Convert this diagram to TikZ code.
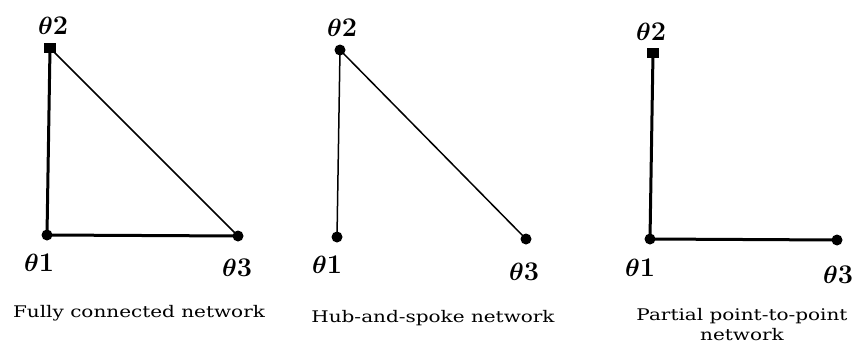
\documentclass[tikz,border=0pt]{standalone}
\usepackage{fontspec}
\newfontfamily\capfont{DejaVu Serif}
\begin{document}
\begin{tikzpicture}[x=1pt,y=-1pt,
  dot/.style={circle,fill=black,inner sep=0pt,minimum size=11pt},
  sq/.style={rectangle,fill=black,inner sep=0pt,minimum width=12pt,minimum height=10pt},
  lab/.style={font=\fontsize{27}{30}\selectfont\boldmath,inner sep=0pt},
  captext/.style={font=\capfont\fontsize{16}{20}\selectfont,inner sep=0pt,align=center},
  thickline/.style={line width=3pt},
  thinline/.style={line width=1.5pt}]
\useasboundingbox (0,0) rectangle (853,359);
% panel 1
\node[sq] (a2) at (50,48) {};
\node[dot] (a1) at (47,235) {};
\node[dot] (a3) at (238,236) {};
\draw[thickline] (a2.center) -- (a1.center) -- (a3.center);
\draw[thinline] (a2.center) -- (a3.center);
\node[lab] (la2) at (53,26) {$\theta$\textbf{2}};
\node[lab] (la1) at (39,263) {$\theta$\textbf{1}};
\node[lab] (la3) at (237,268) {$\theta$\textbf{3}};
\node[captext] (ca) at (139,313) {\scalebox{1.25}[1]{Fully connected network}};
% panel 2
\node[dot] (b2) at (340,50) {};
\node[dot] (b1) at (337,237) {};
\node[dot] (b3) at (526,239) {};
\draw[thinline] (b2.center) -- (b1.center);
\draw[thinline] (b2.center) -- (b3.center);
\node[lab] (lb2) at (342,28) {$\theta$\textbf{2}};
\node[lab] (lb1) at (327,265) {$\theta$\textbf{1}};
\node[lab] (lb3) at (524,272) {$\theta$\textbf{3}};
\node[captext] (cb) at (433,318) {\scalebox{1.25}[1]{Hub-and-spoke network}};
% panel 3
\node[sq] (c2) at (653,53) {};
\node[dot] (c1) at (650,239) {};
\node[dot] (c3) at (837,240) {};
\draw[thickline] (c2.center) -- (c1.center) -- (c3.center);
\node[lab] (lc2) at (651,32) {$\theta$\textbf{2}};
\node[lab] (lc1) at (640,268) {$\theta$\textbf{1}};
\node[lab] (lc3) at (838,275) {$\theta$\textbf{3}};
\node[captext] (cc) at (742,325) {\scalebox{1.25}[1]{Partial point-to-point}\\\scalebox{1.25}[1]{network}};
\end{tikzpicture}
\end{document}
